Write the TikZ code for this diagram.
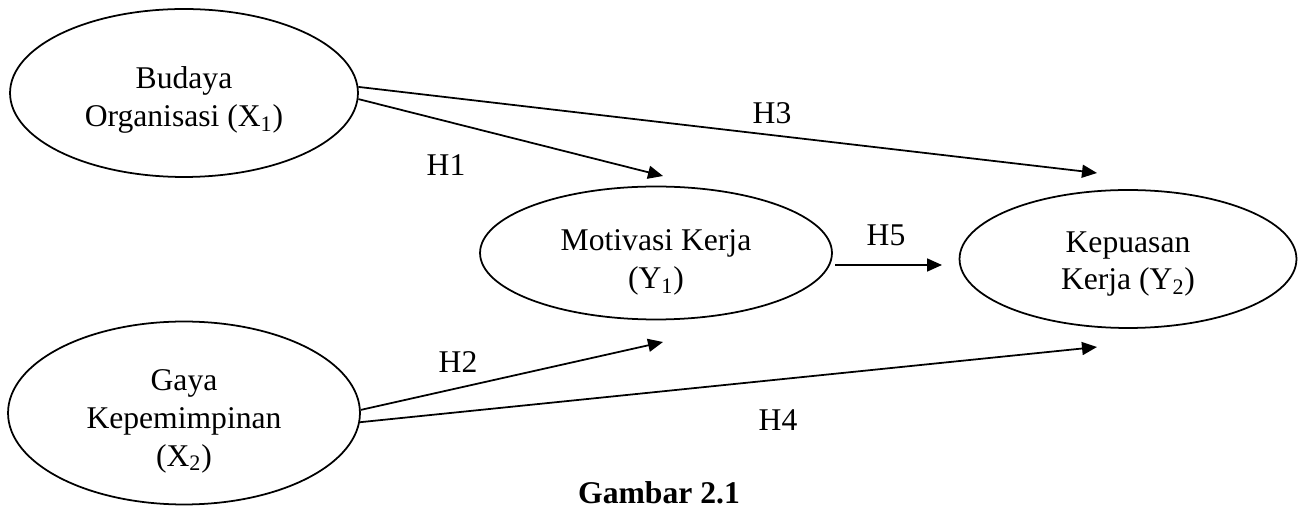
\documentclass[tikz,border=0pt]{standalone}
\usepackage{fontspec}
\setmainfont{Liberation Serif}
\usetikzlibrary{shapes.geometric,arrows.meta}
\tikzset{
  var/.style={draw, ellipse, line width=1pt, inner sep=0pt},
  txt/.style={inner sep=0pt, align=center, font=\fontsize{18}{21.6}\selectfont},
  lab/.style={inner sep=0pt, font=\fontsize{18}{21.6}\selectfont},
  arr/.style={line width=1pt, -{Triangle[length=0.3cm,width=0.26cm]}},
}
\begin{document}
\begin{tikzpicture}[x=0.02cm, y=-0.02cm]
\useasboundingbox (0,0) rectangle (1302,509);
\node[var, minimum width=6.96cm, minimum height=3.36cm] (bud) at (184,93) {};
\node[var, minimum width=7.04cm, minimum height=3.66cm] (gaya) at (184,413) {};
\node[var, minimum width=7.04cm, minimum height=2.66cm] (mot) at (656,253) {};
\node[var, minimum width=6.74cm, minimum height=2.76cm] (kep) at (1128,259) {};

\node[txt] (budt) at ([yshift=-0.14cm]bud.center) {Budaya\\Organisasi (X\textsubscript{1})};
\node[txt] (gayat) at ([yshift=-0.16cm]gaya.center) {Gaya\\Kepemimpinan\\(X\textsubscript{2})};
\node[txt] (mott) at ([yshift=-0.19cm]mot.center) {Motivasi Kerja\\(Y\textsubscript{1})};
\node[txt] (kept) at ([yshift=-0.1cm]kep.center) {Kepuasan\\Kerja (Y\textsubscript{2})};

\coordinate (h1e) at (663,176);
\coordinate (h3e) at (1097,173);
\coordinate (h2e) at (663,342);
\coordinate (h4e) at (1097,347);
\coordinate (h5s) at (835,265);
\coordinate (h5e) at (942,265);

\draw[arr] (bud.-2) -- (h1e);
\draw[arr] (bud.2) -- (h3e);
\draw[arr] (gaya.1.6) -- (h2e);
\draw[arr] (gaya.-3.3) -- (h4e);
\draw[arr] (h5s) -- (h5e);

\node[lab] (l1) at (446,165) {H1};
\node[lab] (l3) at (772,113) {H3};
\node[lab] (l2) at (458,362) {H2};
\node[lab] (l4) at (778,420) {H4};
\node[lab] (l5) at (886,235) {H5};
\node[lab, font=\fontsize{18}{21.6}\selectfont\bfseries] (cap) at (659,493) {Gambar 2.1};
\end{tikzpicture}
\end{document}
